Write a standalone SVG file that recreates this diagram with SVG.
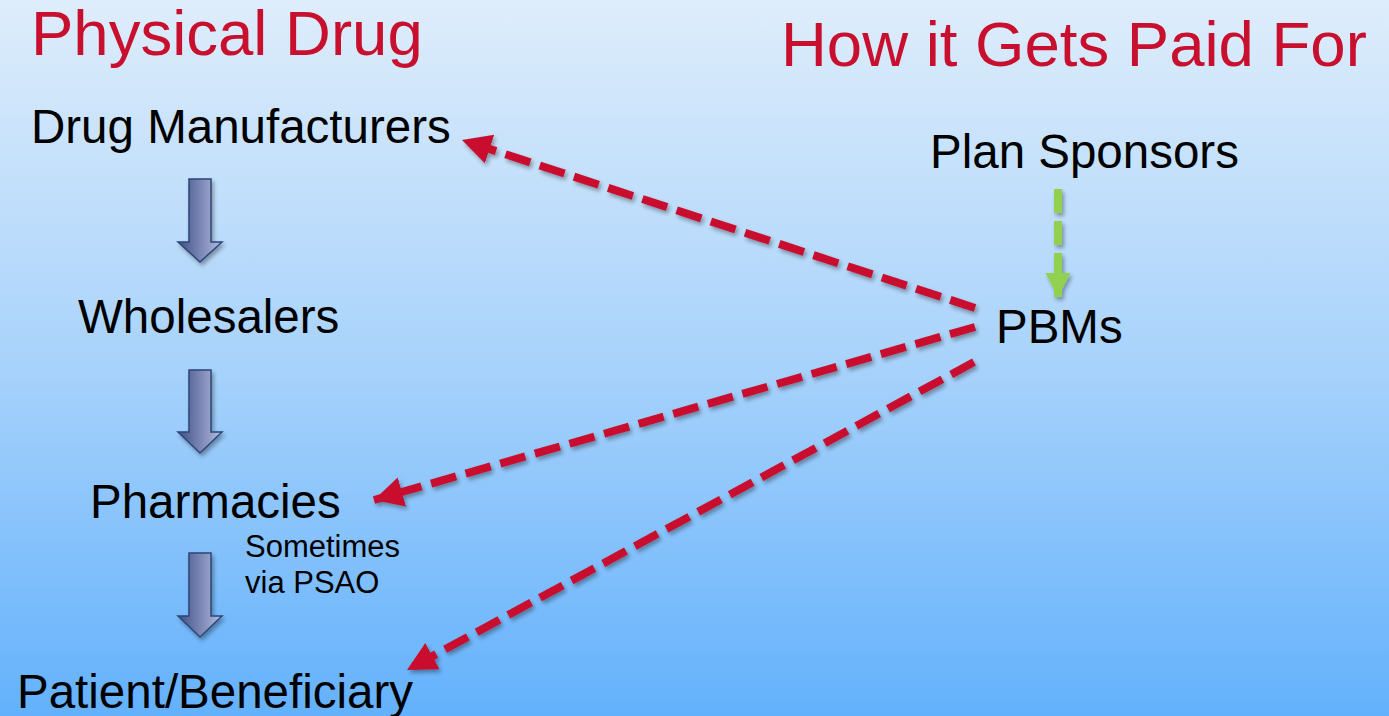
<svg xmlns="http://www.w3.org/2000/svg" width="1389" height="716" viewBox="0 0 1389 716">
<defs>
<linearGradient id="bg" x1="0" y1="0" x2="0" y2="1">
<stop offset="0" stop-color="#deedfb"/>
<stop offset="0.5" stop-color="#a9d3fb"/>
<stop offset="1" stop-color="#63b1fc"/>
</linearGradient>
<linearGradient id="blk" x1="0" y1="0" x2="1" y2="0">
<stop offset="0" stop-color="#3f4f86"/>
<stop offset="1" stop-color="#b4bde0"/>
</linearGradient>
<filter id="sh" x="-20%" y="-20%" width="140%" height="140%">
<feGaussianBlur in="SourceAlpha" stdDeviation="2"/>
<feOffset dx="2" dy="3" result="b"/>
<feComponentTransfer><feFuncA type="linear" slope="0.35"/></feComponentTransfer>
<feMerge><feMergeNode/><feMergeNode in="SourceGraphic"/></feMerge>
</filter>
<marker id="redHead" markerUnits="userSpaceOnUse" markerWidth="32" markerHeight="32" refX="29" refY="15" orient="auto">
<path d="M0,0 L29,15 L0,30 Z" fill="#c8102e"/>
</marker>
<marker id="greenHead" markerUnits="userSpaceOnUse" markerWidth="28" markerHeight="28" refX="24" refY="12.5" orient="auto">
<path d="M0,0 L24,12.5 L0,25 Z" fill="#92d050"/>
</marker>
</defs>
<style>
.title{font-family:"Liberation Sans",Arial,sans-serif;font-size:63.5px;fill:#c8102e}
.lbl{font-family:"Liberation Sans",Arial,sans-serif;font-size:47.5px;fill:#000}
.small{font-family:"Liberation Sans",Arial,sans-serif;font-size:31px;fill:#000}
.red{fill:none;stroke:#c8102e;stroke-width:8;stroke-dasharray:26 10}
.green{fill:none;stroke:#92d050;stroke-width:8;stroke-dasharray:24 8}
.block{fill:url(#blk);stroke:#2e4577;stroke-width:1.5}
</style>
<rect x="0" y="0" width="1389" height="716" fill="url(#bg)"/>
<text class="title" x="31" y="55">Physical Drug</text>
<text class="title" x="781" y="66">How it Gets Paid For</text>
<g id="drug-manufacturers"><text class="lbl" x="31" y="143">Drug Manufacturers</text></g>
<g id="wholesalers"><text class="lbl" x="78" y="333">Wholesalers</text></g>
<g id="pharmacies"><text class="lbl" x="90" y="518">Pharmacies</text></g>
<g id="patient"><text class="lbl" x="17" y="708">Patient/Beneficiary</text></g>
<g id="plan-sponsors"><text class="lbl" x="930" y="168">Plan Sponsors</text></g>
<g id="pbms"><text class="lbl" x="996" y="343">PBMs</text></g>
<g id="psao-note"><text class="small" x="245" y="557">Sometimes</text><text class="small" x="245" y="593">via PSAO</text></g>
<g id="connectors">
<g filter="url(#sh)">
<path class="block" d="M189,179 H211 V242 H222 L200,262 L178,242 H189 Z"/>
<path class="block" d="M189,370 H211 V432 H222 L200,453 L178,432 H189 Z"/>
<path class="block" d="M189,553 H211 V616 H222 L200,637 L178,616 H189 Z"/>
</g>
<g filter="url(#sh)">
<path class="green" d="M1058,189 V297" marker-end="url(#greenHead)"/>
<path class="red" d="M975,308 L462,140" marker-end="url(#redHead)"/>
<path class="red" d="M975,327 L374,500" marker-end="url(#redHead)"/>
<path class="red" d="M974,362 L407,670" marker-end="url(#redHead)"/>
</g>
</g>
</svg>
